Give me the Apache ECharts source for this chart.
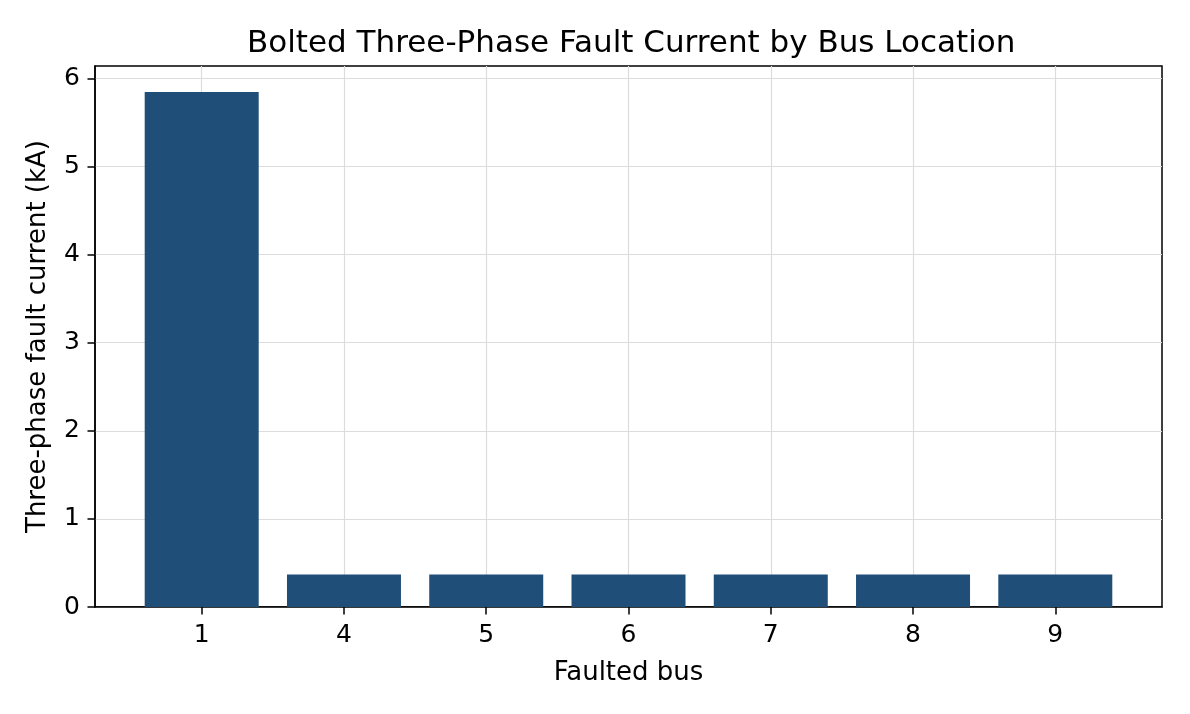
<!DOCTYPE html>
<html lang="en">
<head>
    <meta charset="UTF-8">
    <title>Bolted Three-Phase Fault Current</title>
    <style>
        html, body { margin: 0; padding: 0; background: #fff; }
        #chart1 { width: 1190px; height: 714px; }
    </style>
</head>
<body>
<div id="chart1"></div>

<script type="text/javascript" src="https://cdn.jsdelivr.net/npm/echarts@6/dist/echarts.min.js"></script>
<script type="text/javascript">
    // faulted bus numbers and their fault currents (kA)
    var busLabels = ['1', '4', '5', '6', '7', '8', '9'];
    var faultCurrent = [5.845, 0.37, 0.37, 0.37, 0.37, 0.37, 0.37];
    var yTicks = [0, 1, 2, 3, 4, 5, 6];

    var positions = busLabels.map(function (b, i) { return i; });
    var barData = faultCurrent.map(function (v, i) { return [i, v]; });

    var font = 'DejaVu Sans';
    var myChart1 = echarts.init(document.getElementById('chart1'));
    myChart1.setOption({
        animation: false,
        title: {
            text: 'Bolted Three-Phase Fault Current by Bus Location',
            left: 242,
            top: 23,
            textStyle: { fontFamily: font, fontSize: 31, fontWeight: 'normal', color: '#000' }
        },
        grid: {
            left: 95, right: 28, top: 66, bottom: 107,
            show: true, borderColor: '#000', borderWidth: 1.5
        },
        xAxis: {
            type: 'value',
            min: -0.75,
            max: 6.75,
            name: 'Faulted bus',
            nameLocation: 'middle',
            nameGap: 53,
            nameTextStyle: { fontFamily: font, fontSize: 26, color: '#000' },
            axisLine: { show: true, onZero: false, lineStyle: { color: '#000', width: 1.5 } },
            axisTick: { show: true, length: 7.5, customValues: positions, lineStyle: { color: '#000', width: 1.5 } },
            axisLabel: {
                customValues: positions,
                fontFamily: font, fontSize: 25, color: '#000', margin: 16,
                formatter: function (v) { return busLabels[Math.round(v)]; }
            },
            splitLine: { show: true, customValues: positions, lineStyle: { color: '#dcdcdc', width: 1.2 } }
        },
        yAxis: {
            type: 'value',
            min: 0,
            max: 6.14,
            interval: 1,
            name: 'Three-phase fault current (kA)',
            nameLocation: 'middle',
            nameGap: 44,
            nameTextStyle: { fontFamily: font, fontSize: 26, color: '#000' },
            axisLine: { show: true, onZero: false, lineStyle: { color: '#000', width: 1.5 } },
            axisTick: { show: true, length: 7.5, customValues: yTicks, lineStyle: { color: '#000', width: 1.5 } },
            axisLabel: { customValues: yTicks, fontFamily: font, fontSize: 25, color: '#000', margin: 15 },
            splitLine: { show: true, lineStyle: { color: '#dcdcdc', width: 1.2 } }
        },
        series: [
            {
                type: 'bar',
                data: barData,
                barWidth: 114,
                itemStyle: { color: '#1f4e79' }
            }
        ]
    });
</script>

</body>
</html>
